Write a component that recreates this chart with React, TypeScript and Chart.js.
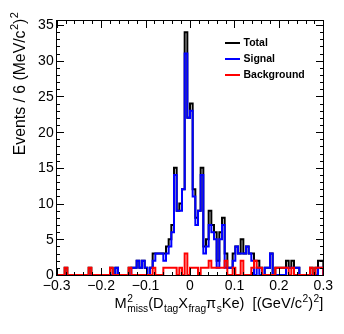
import React, { useEffect, useRef } from 'react';
import { Chart, registerables } from 'chart.js';

Chart.register(...registerables);

// ---- data ----
const X_MIN = -0.3;
const X_MAX = 0.3;
const BIN_WIDTH = 0.006;
const Y_MAX = 35.7;

const signalCounts = [
  0, 0, 0, 0, 0, 0, 0, 0, 0, 0,
  0, 0, 0, 0, 0, 0, 0, 0, 0, 0,
  0, 0, 0, 1, 0, 0, 0, 0, 0, 1,
  1, 2, 1, 2, 1, 0, 1, 2, 3, 3,
  3, 2, 3, 4, 6, 14, 9, 9, 12, 31,
  22, 23, 11, 7, 9, 14, 3, 4, 7, 6,
  5, 1, 5, 7, 1, 1, 1, 2, 4, 3,
  3, 3, 4, 3, 2, 0, 1, 0, 0, 1,
  1, 3, 0, 0, 0, 0, 0, 1, 1, 1,
  1, 1, 0, 0, 0, 0, 0, 0, 0, 1,
];

const backgroundCounts = [
  0, 0, 0, 0, 1, 0, 0, 0, 0, 0,
  0, 0, 0, 1, 0, 0, 0, 0, 0, 0,
  0, 1, 0, 0, 0, 0, 0, 0, 1, 0,
  0, 0, 0, 0, 0, 0, 0, 1, 0, 0,
  0, 1, 1, 1, 1, 1, 0, 1, 0, 3,
  0, 1, 1, 1, 0, 1, 1, 1, 2, 1,
  1, 1, 1, 1, 2, 0, 0, 1, 0, 0,
  2, 0, 0, 0, 1, 2, 1, 1, 0, 0,
  0, 0, 0, 1, 1, 1, 1, 1, 0, 1,
  0, 0, 0, 0, 0, 0, 1, 0, 1, 1,
];

const totalCounts = [
  0, 0, 0, 0, 1, 0, 0, 0, 0, 0,
  0, 0, 0, 1, 0, 0, 0, 0, 0, 0,
  0, 1, 0, 1, 0, 0, 0, 0, 1, 1,
  1, 2, 1, 2, 1, 0, 1, 3, 3, 3,
  3, 3, 4, 5, 7, 15, 9, 10, 12, 34,
  22, 24, 12, 8, 9, 15, 4, 5, 9, 7,
  6, 2, 6, 8, 3, 1, 1, 3, 4, 3,
  5, 3, 4, 3, 3, 2, 2, 1, 0, 1,
  1, 3, 0, 1, 1, 1, 1, 2, 1, 2,
  1, 1, 0, 0, 0, 0, 1, 0, 1, 2,
];

const xTickValues = [-0.3, -0.2, -0.1, 0, 0.1, 0.2, 0.3];
const xTickLabels = ['\u22120.3', '\u22120.2', '\u22120.1', '0', '0.1', '0.2', '0.3'];
const yTickValues = [0, 5, 10, 15, 20, 25, 30, 35];
const yTickLabels = ['0', '5', '10', '15', '20', '25', '30', '35'];
const legendLabels = ['Total', 'Signal', 'Background'];
const seriesColors = ['#000000', '#0000ff', '#ff0000'];

const FONT = '"Liberation Sans", Arial, Helvetica, sans-serif';

type Seg = { base: string; sup?: string; sub?: string };

const xTitle: Seg[] = [
  { base: 'M', sup: '2', sub: 'miss' },
  { base: '(D', sub: 'tag' },
  { base: 'X', sub: 'frag' },
  { base: '\u03c0', sub: 's' },
  { base: 'Ke)  [(GeV/c', sup: '2' },
  { base: ')', sup: '2' },
  { base: ']' },
];
const yTitle: Seg[] = [
  { base: 'Events / 6 (MeV/c', sup: '2' },
  { base: ')', sup: '2' },
];

function histPoints(counts: number[]) {
  const pts: { x: number; y: number }[] = [{ x: X_MIN, y: 0 }];
  counts.forEach((c, i) => pts.push({ x: X_MIN + i * BIN_WIDTH, y: c }));
  pts.push({ x: X_MAX, y: counts[counts.length - 1] });
  pts.push({ x: X_MAX, y: 0 });
  return pts;
}

function richWidth(ctx: CanvasRenderingContext2D, segs: Seg[], size: number) {
  let w = 0;
  for (const s of segs) {
    ctx.font = `${size}px ${FONT}`;
    w += ctx.measureText(s.base).width;
    ctx.font = `${size * 0.7}px ${FONT}`;
    const a = s.sup ? ctx.measureText(s.sup).width + 0.5 : 0;
    const b = s.sub ? ctx.measureText(s.sub).width + 0.5 : 0;
    w += Math.max(a, b);
  }
  return w;
}

function drawRich(ctx: CanvasRenderingContext2D, segs: Seg[], x0: number, y0: number, size: number) {
  let x = x0;
  ctx.textAlign = 'left';
  ctx.textBaseline = 'alphabetic';
  for (const s of segs) {
    ctx.font = `${size}px ${FONT}`;
    ctx.fillText(s.base, x, y0);
    x += ctx.measureText(s.base).width;
    ctx.font = `${size * 0.7}px ${FONT}`;
    let adv = 0;
    if (s.sup) {
      ctx.fillText(s.sup, x + 0.5, y0 - size * 0.42);
      adv = Math.max(adv, ctx.measureText(s.sup).width + 0.5);
    }
    if (s.sub) {
      ctx.fillText(s.sub, x + 0.5, y0 + size * 0.3);
      adv = Math.max(adv, ctx.measureText(s.sub).width + 0.5);
    }
    x += adv;
  }
}

const rootFrame = {
  id: 'rootFrame',
  afterDraw(chart: any) {
    const { ctx, chartArea: a, scales } = chart;
    const xs = scales.x;
    const ys = scales.y;
    ctx.save();
    ctx.strokeStyle = '#000';
    ctx.fillStyle = '#000';
    ctx.lineWidth = 1;
    const L = Math.floor(a.left) + 0.5;
    const R = Math.floor(a.right) + 0.5;
    const T = Math.floor(a.top) + 0.5;
    const B = Math.floor(a.bottom) + 0.5;
    ctx.strokeRect(L, T, R - L, B - T);

    // x ticks (inside, bottom and top)
    ctx.beginPath();
    for (let k = 0; k <= 30; k++) {
      const v = X_MIN + k * 0.02;
      const px = Math.round(xs.getPixelForValue(v)) + 0.5;
      const len = k % 5 === 0 ? 7.5 : 3.5;
      ctx.moveTo(px, B);
      ctx.lineTo(px, B - len);
      ctx.moveTo(px, T);
      ctx.lineTo(px, T + len);
    }
    // y ticks (inside, left and right)
    for (let k = 0; k <= 35; k++) {
      const py = Math.round(ys.getPixelForValue(k)) + 0.5;
      const len = k % 5 === 0 ? 7.5 : 3.5;
      ctx.moveTo(L, py);
      ctx.lineTo(L + len, py);
      ctx.moveTo(R, py);
      ctx.lineTo(R - len, py);
    }
    ctx.stroke();

    // tick labels
    ctx.font = `14px ${FONT}`;
    ctx.textAlign = 'right';
    ctx.textBaseline = 'middle';
    yTickValues.forEach((v, i) => {
      ctx.fillText(yTickLabels[i], a.left - 3, ys.getPixelForValue(v) + 0.5);
    });
    ctx.textAlign = 'center';
    ctx.textBaseline = 'top';
    xTickValues.forEach((v, i) => {
      ctx.fillText(xTickLabels[i], xs.getPixelForValue(v), a.bottom + 4);
    });

    // x title (right aligned)
    const xsize = 14.6;
    const xw = richWidth(ctx, xTitle, xsize);
    drawRich(ctx, xTitle, a.right - xw, 308, xsize);

    // y title (rotated, right aligned at top)
    const ysize = 15.8;
    const yw = richWidth(ctx, yTitle, ysize);
    ctx.save();
    ctx.translate(24.5, 12);
    ctx.rotate(-Math.PI / 2);
    drawRich(ctx, yTitle, -yw, 0, ysize);
    ctx.restore();

    // legend
    const ly = [43, 59, 75];
    legendLabels.forEach((lab, i) => {
      ctx.strokeStyle = seriesColors[i];
      ctx.lineWidth = 2;
      ctx.beginPath();
      ctx.moveTo(225, ly[i]);
      ctx.lineTo(240, ly[i]);
      ctx.stroke();
      ctx.fillStyle = '#000';
      ctx.font = `bold 10.5px ${FONT}`;
      ctx.textAlign = 'left';
      ctx.textBaseline = 'middle';
      ctx.fillText(lab, 243.5, ly[i] + 0.5);
    });
    ctx.restore();
  },
};

export default function App() {
  const canvasRef = useRef<HTMLCanvasElement | null>(null);

  useEffect(() => {
    document.body.style.margin = '0';
    const canvas = canvasRef.current;
    if (!canvas) return;
    const series = [totalCounts, signalCounts, backgroundCounts];
    const chart = new Chart(canvas, {
      type: 'line',
      data: {
        datasets: series.map((counts, i) => ({
          label: legendLabels[i],
          data: histPoints(counts),
          borderColor: seriesColors[i],
          borderWidth: 2,
          backgroundColor: 'transparent',
          fill: false,
          stepped: 'after' as const,
          pointRadius: 0,
          tension: 0,
          order: 3 - i,
        })),
      },
      options: {
        animation: false,
        responsive: false,
        devicePixelRatio: 1,
        layout: { padding: { left: 56.67, right: 20.67, top: 20, bottom: 59 } },
        plugins: { legend: { display: false }, tooltip: { enabled: false } },
        scales: {
          x: { type: 'linear', min: X_MIN, max: X_MAX, display: false },
          y: { type: 'linear', min: 0, max: Y_MAX, display: false },
        },
      },
      plugins: [rootFrame],
    });
    return () => chart.destroy();
  }, []);

  return (
    <div style={{ width: 344, height: 334, background: '#fff' }}>
      <canvas ref={canvasRef} width={344} height={334} style={{ display: 'block' }} />
    </div>
  );
}
